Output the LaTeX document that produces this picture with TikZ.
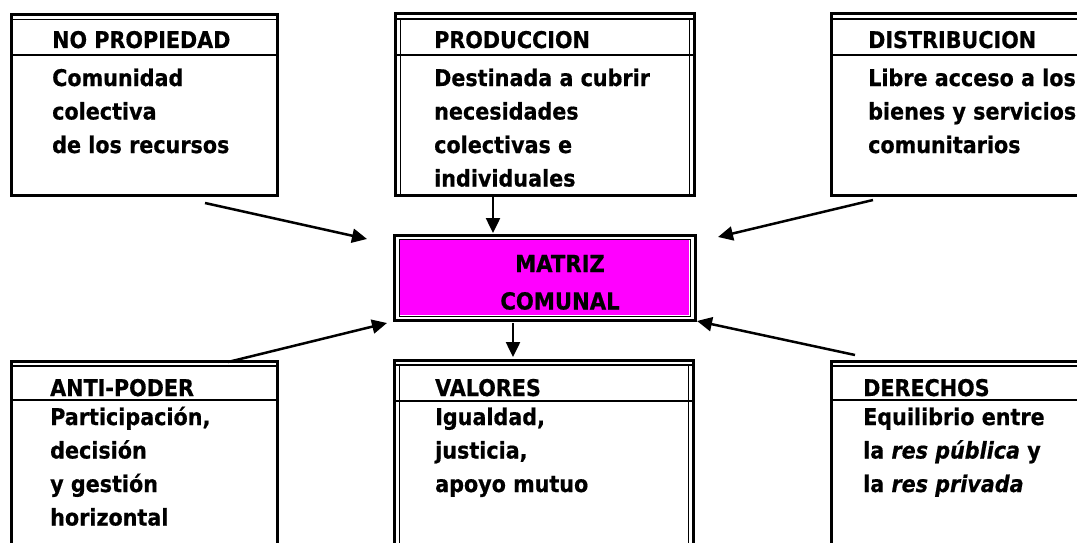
\documentclass[tikz,border=0pt]{standalone}
\usepackage{fontspec}
\setmainfont{DejaVu Sans}[FakeStretch=0.9, FakeBold=0.6]
\usetikzlibrary{arrows.meta}
\definecolor{matfill}{HTML}{FF00FF}
\begin{document}
\begin{tikzpicture}[x=1pt,y=-1pt,
  outerb/.style={draw=black, line width=3pt},
  topinner/.style={draw=black, line width=1.2pt},
  sideinner/.style={draw=black, line width=1pt},
  sepline/.style={draw=black, line width=2pt},
  boxshape/.style={rectangle, inner sep=0pt, outer sep=0pt},
  txt/.style={anchor=base west, inner sep=0pt, font=\fontsize{23}{27}\selectfont\bfseries},
  ctxt/.style={anchor=base, inner sep=0pt, font=\fontsize{23.5}{27}\selectfont\bfseries},
  conn/.style={draw=black, line width=2.5pt, -{Triangle[length=15pt,width=14pt]}}
]
\useasboundingbox (0,0) rectangle (1077,543);
\clip (0,0) rectangle (1077,543);

% ---------- box nodes ----------
\node[boxshape, minimum width=266pt, minimum height=181pt] (np)   at (144,105) {};
\node[boxshape, minimum width=299pt, minimum height=181pt] (prod) at (544.5,104.5) {};
\node[boxshape, minimum width=299pt, minimum height=181pt] (dist) at (980.5,104.5) {};
\node[boxshape, minimum width=266pt, minimum height=240pt] (anti) at (144,481) {};
\node[boxshape, minimum width=299pt, minimum height=240pt] (val)  at (544,480) {};
\node[boxshape, minimum width=299pt, minimum height=240pt] (der)  at (980.5,481) {};
\node[boxshape, minimum width=301pt, minimum height=85pt]  (mat)  at (544.5,277.5) {};

% ---------- borders ----------
\foreach \b in {np,prod,dist,anti,val,der}{
  \draw[outerb] (\b.north west) rectangle (\b.south east);
  \draw[topinner] ([shift={(0,5)}]\b.north west) -- ([shift={(0,5)}]\b.north east);
}
\foreach \b in {prod,val}{
  \draw[sideinner] ([shift={(5,5)}]\b.north west) -- ([shift={(5,0)}]\b.south west);
  \draw[sideinner] ([shift={(-5,5)}]\b.north east) -- ([shift={(-5,0)}]\b.south east);
}
% header separators
\draw[sepline] (np.north west)   ++(0,41) -- ++(266,0);
\draw[sepline] (prod.north west) ++(0,41) -- ++(299,0);
\draw[sepline] (dist.north west) ++(0,41) -- ++(299,0);
\draw[sepline] (anti.north west) ++(0,39) -- ++(266,0);
\draw[sepline] (val.north west)  ++(0,41) -- ++(299,0);
\draw[sepline] (der.north west)  ++(0,39) -- ++(299,0);

% central box
\draw[outerb] (mat.north west) rectangle (mat.south east);
\fill[matfill] ([shift={(6,5)}]mat.north west) rectangle ([shift={(-6,-5)}]mat.south east);
\draw[sideinner] ([shift={(5,4)}]mat.north west) rectangle ([shift={(-5,-4)}]mat.south east);

% ---------- texts ----------
\node[txt] (t1h) at (52,48) {NO PROPIEDAD};
\node[txt] (t1a) at (52,86) {Comunidad};
\node[txt] (t1b) at (52,119.5) {colectiva};
\node[txt] (t1c) at (52,153) {de los recursos};

\node[txt] (t2h) at (434,48) {PRODUCCION};
\node[txt] (t2a) at (434,86) {Destinada a cubrir};
\node[txt] (t2b) at (434,119.5) {necesidades};
\node[txt] (t2c) at (434,153) {colectivas e};
\node[txt] (t2d) at (434,186.5) {individuales};

\node[txt] (t3h) at (868,48) {DISTRIBUCION};
\node[txt] (t3a) at (868,86) {Libre acceso a los};
\node[txt] (t3b) at (868,119.5) {bienes y servicios};
\node[txt] (t3c) at (868,153) {comunitarios};

\node[ctxt] (tm1) at (560,272) {MATRIZ};
\node[ctxt] (tm2) at (560,309.5) {COMUNAL};

\node[txt] (t4h) at (50,396) {ANTI-PODER};
\node[txt] (t4a) at (50,425) {Participación,};
\node[txt] (t4b) at (50,458.5) {decisión};
\node[txt] (t4c) at (50,492) {y gestión};
\node[txt] (t4d) at (50,525.5) {horizontal};

\node[txt] (t5h) at (435,396) {VALORES};
\node[txt] (t5a) at (435,425) {Igualdad,};
\node[txt] (t5b) at (435,458.5) {justicia,};
\node[txt] (t5c) at (435,492) {apoyo mutuo};

\node[txt] (t6h) at (863,396) {DERECHOS};
\node[txt] (t6a) at (863,425) {Equilibrio entre};
\node[txt] (t6b) at (863,458.5) {la \textit{res pública} y};
\node[txt] (t6c) at (863,492) {la \textit{res privada}};

% ---------- connectors ----------
\coordinate (a1s) at (205,203);  \coordinate (a1e) at (367,239);
\coordinate (a2s) at (493,197);  \coordinate (a2e) at (493,233);
\coordinate (a3s) at (873,200);  \coordinate (a3e) at (718,237);
\coordinate (a4s) at (228,362);  \coordinate (a4e) at (387,323);
\coordinate (a5s) at (513,323);  \coordinate (a5e) at (513,357);
\coordinate (a6s) at (855,355);  \coordinate (a6e) at (697,321);
\draw[conn] (a1s) -- (a1e);
\draw[conn] (a2s) -- (a2e);
\draw[conn] (a3s) -- (a3e);
\draw[conn] (a4s) -- (a4e);
\draw[conn] (a5s) -- (a5e);
\draw[conn] (a6s) -- (a6e);
\end{tikzpicture}
\end{document}
